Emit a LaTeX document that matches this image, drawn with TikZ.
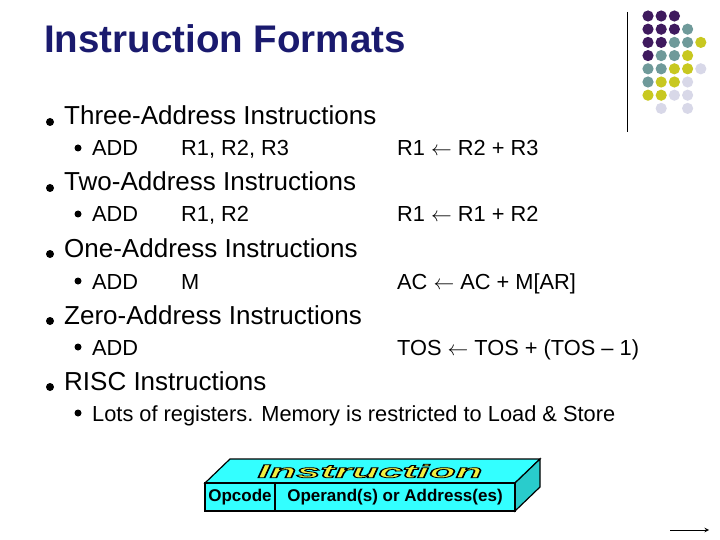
\documentclass[tikz,border=0pt]{standalone}
\usepackage{fontspec}
\setmainfont{Liberation Sans}
\definecolor{dP}{HTML}{3F1A5E}
\definecolor{dG}{HTML}{6F9A9A}
\definecolor{dY}{HTML}{C8C820}
\definecolor{dL}{HTML}{D8D8E8}
\definecolor{cy}{HTML}{33FFFF}
\definecolor{tit}{HTML}{1A1A6E}
\definecolor{yel}{HTML}{F0F040}
\newcommand\outlinetext[1]{\special{pdf:literal direct 2 Tr 1.2 w 0 0 0 RG}#1\special{pdf:literal direct 0 Tr}}
\begin{document}
\begin{tikzpicture}[x=1pt,y=-1pt,
  lone/.style={anchor=base west,inner sep=0pt,font=\fontsize{26}{30}\selectfont},
  ltwo/.style={anchor=base west,inner sep=0pt,font=\fontsize{21.8}{26}\selectfont},
  bul/.style={circle,fill=black,inner sep=0pt,minimum size=8pt},
  bulb/.style={circle,fill=black,inner sep=0pt,minimum size=7pt},
  ins/.style={font=\fontsize{30}{30}\bfseries\itshape\selectfont,xscale=1.45,yscale=0.62}]
\useasboundingbox (0,0) rectangle (720,540);
\node[anchor=base west,inner sep=0pt,text=tit,font=\fontsize{38.5}{42}\bfseries\selectfont] (title) at (44,53) {Instruction Formats};
\draw[line width=1pt] (627,12) -- (627,132);
% dots
\foreach \r/\row in {0/{P,P,P,N,N},1/{P,P,P,G,N},2/{P,P,G,G,Y},3/{P,G,G,Y,N},4/{G,G,Y,Y,L},5/{G,Y,Y,L,N},6/{Y,Y,L,L,N},7/{N,L,N,L,N}}{
  \foreach \c [count=\i from 0] in \row {
    \if N\c\else
      \fill[d\c] ({648+13.2*\i},{16+13.2*\r}) circle (5.6);
    \fi
  }}
% level 1
\foreach \n/\y/\t in {a/116/Three-Address Instructions,b/182/Two-Address Instructions,c/248/One-Address Instructions,d/315/Zero-Address Instructions,e/381/RISC Instructions}{
  \node[bul] (b\n) at (50,{\y+6}) {};
  \node[lone] (t\n) at (64,{\y+9}) {\t};
}
% level 2
\foreach \n/\y/\a/\b/\c in {a/148/ADD/{R1, R2, R3}/{R1 $\leftarrow$ R2 + R3},b/214/ADD/{R1, R2}/{R1 $\leftarrow$ R1 + R2},c/281/ADD/M/{AC $\leftarrow$ AC + M[AR]},d/347/ADD/{}/{TOS $\leftarrow$ TOS + (TOS -- 1)}}{
  \node[bulb] (s\n) at (78,{\y}) {};
  \node[ltwo] (op\n) at (92,{\y+8}) {\a};
  \node[ltwo] (ar\n) at (181,{\y+8}) {\b};
  \node[ltwo] (rt\n) at (397,{\y+8}) {\c};
}
\node[bulb] (se) at (78,413) {};
\node[ltwo] (te) at (92,421) {Lots of registers. Memory is restricted to Load \& Store};
% box
\draw[fill=cy,line width=1.2pt] (205,483) -- (230,459) -- (540,459) -- (515,483) -- cycle;
\draw[fill=cy!80!black,line width=1.2pt] (515,483) -- (540,459) -- (540,487) -- (515,511) -- cycle;
\draw[fill=cy,line width=1.2pt] (205,483) rectangle (515,511);
\draw[line width=1.2pt] (275,483) -- (275,511);
\node[ins,text=yel] (ins) at (370,471) {\outlinetext{Instruction}};
\node[font=\fontsize{17}{18}\bfseries\selectfont] (opc) at (240,497) {Opcode};
\node[font=\fontsize{17}{18}\bfseries\selectfont] (opr) at (395,497) {Operand(s) or Address(es)};
% arrow
\coordinate (a1) at (670,530); \coordinate (a2) at (709,530);
\draw[-stealth,line width=1pt] (a1) -- (a2);
\end{tikzpicture}
\end{document}
